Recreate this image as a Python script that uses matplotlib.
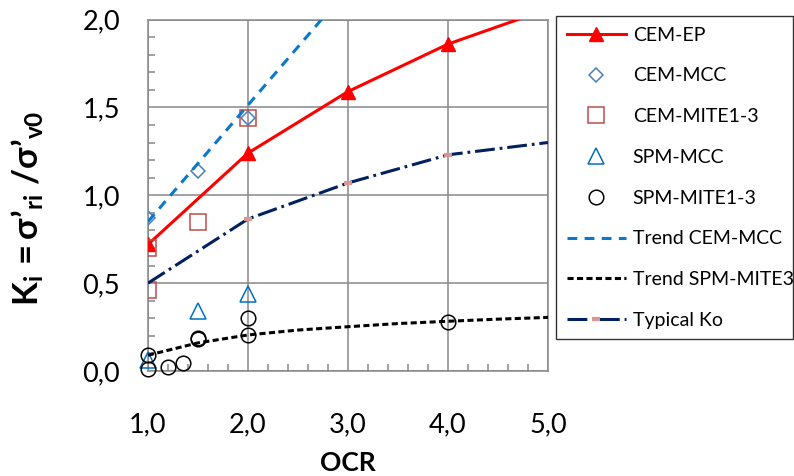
import matplotlib
matplotlib.use('Agg')
import matplotlib.pyplot as plt
from matplotlib.ticker import MultipleLocator, FuncFormatter

plt.rcParams['font.family'] = ['Lato', 'DejaVu Sans']
plt.rcParams['mathtext.fontset'] = 'custom'
plt.rcParams['mathtext.rm'] = 'Lato'
plt.rcParams['mathtext.bf'] = 'Lato:bold'
plt.rcParams['mathtext.it'] = 'Lato:italic'
plt.rcParams['mathtext.fallback'] = 'stixsans'

# data
ocr_ep = [1, 2, 3, 4, 5]
ki_ep = [0.72, 1.24, 1.59, 1.86, 2.06]

ocr_cem_mcc = [1, 1.5, 2]
ki_cem_mcc = [0.87, 1.14, 1.44]

ocr_cem_mite = [1, 1, 1.5, 2]
ki_cem_mite = [0.46, 0.70, 0.85, 1.44]

ocr_spm_mcc = [1, 1.5, 2]
ki_spm_mcc = [0.06, 0.34, 0.44]

ocr_spm_mite = [1, 1, 1.2, 1.35, 1.5, 1.5, 2, 2, 4]
ki_spm_mite = [0.09, 0.01, 0.02, 0.045, 0.18, 0.19, 0.30, 0.205, 0.28]

ocr_trend_mcc = [1, 2.75]
ki_trend_mcc = [0.85, 2.01]

ocr_trend_mite = [1, 1.5, 2, 2.5, 3, 3.5, 4, 4.5, 5]
ki_trend_mite = [0.09, 0.16, 0.205, 0.233, 0.252, 0.27, 0.283, 0.295, 0.305]

ocr_ko = [1, 2, 3, 4, 5]
ki_ko = [0.50, 0.865, 1.07, 1.23, 1.30]

xticks = [1, 2, 3, 4, 5]
yticks = [0, 0.5, 1.0, 1.5, 2.0]

fig = plt.figure(figsize=(7.94, 4.76), dpi=100)
ax = fig.add_axes([148/794, 1 - 371/476, 400/794, 351.5/476])

grid_col = '#888888'
mew = 1.1

ax.plot(ocr_ep, ki_ep, color='#ff0000', lw=2.2, marker='^', ms=10,
        label='CEM-EP', zorder=3, clip_on=True)
ax.plot(ocr_cem_mcc, ki_cem_mcc, ls='none', marker='D', ms=7.5, mfc='none',
        mec='#4a7ebb', mew=mew, label='CEM-MCC', zorder=4)
ax.plot(ocr_cem_mite, ki_cem_mite, ls='none', marker='s', ms=11, mfc='none',
        mec='#be4b48', mew=mew, label='CEM-MITE1-3', zorder=4)
ax.plot(ocr_spm_mcc, ki_spm_mcc, ls='none', marker='^', ms=11, mfc='none',
        mec='#0070c0', mew=mew, label='SPM-MCC', zorder=4, clip_on=False)
ax.plot(ocr_spm_mite, ki_spm_mite, ls='none', marker='o', ms=10.5, mfc='none',
        mec='black', mew=mew, label='SPM-MITE1-3', zorder=4, clip_on=False)
ax.plot(ocr_trend_mcc, ki_trend_mcc, color='#0a78cc', lw=2.2, dashes=(3.2, 2.4),
        label='Trend CEM-MCC', zorder=5)
ax.plot(ocr_trend_mite, ki_trend_mite, color='black', lw=2.2, dashes=(2.0, 1.1),
        label='Trend SPM-MITE3', zorder=5)
ax.plot(ocr_ko, ki_ko, color='#002060', lw=2.2, dashes=(6.5, 1.6, 0.9, 1.6),
        marker='_', ms=6, mew=3, mec='#d99694', markevery=[1, 2, 3],
        label='Typical Ko', zorder=5)

ax.set_xlim(1, 5)
ax.set_ylim(0, 2)
ax.set_xticks(xticks)
ax.set_yticks(yticks)
ax.xaxis.set_minor_locator(MultipleLocator(0.2))
ax.yaxis.set_minor_locator(MultipleLocator(0.1))
fmt = FuncFormatter(lambda v, p: f'{v:.1f}'.replace('.', ','))
ax.xaxis.set_major_formatter(fmt)
ax.yaxis.set_major_formatter(fmt)
ax.tick_params(which='major', length=0, labelsize=19.5, labelcolor='black')
ax.tick_params(axis='y', which='major', pad=20)
ax.tick_params(axis='x', which='major', pad=30)
ax.tick_params(which='minor', direction='in', length=5, width=1.1, color=grid_col)

ax.grid(True, which='major', color=grid_col, lw=1.1)
ax.set_axisbelow(True)
for s in ax.spines.values():
    s.set_color(grid_col)
    s.set_linewidth(1.1)

fig.text(348/794, 1 - 471/476, 'OCR', fontsize=19, fontweight='bold',
         ha='center', va='baseline')
fig.text(28/794, 1 - 208/476,
         "$\\mathbf{K_i\\,=σ\u2019_{ri}\\ /σ\u2019_{v0}}$",
         rotation=90, fontsize=25, ha='center', va='center')

leg_h = 0.1
leg = fig.legend(loc='upper left',
                 bbox_to_anchor=(556/794, 1 - 16/476 - leg_h, 237/794, leg_h),
                 mode='expand', borderaxespad=0, fontsize=14, frameon=True,
                 fancybox=False, edgecolor='black', handlelength=3.05,
                 handletextpad=0.35, labelspacing=1.22, borderpad=0.55)
leg.get_frame().set_linewidth(1.0)

fig.savefig('out.png', dpi=100)
